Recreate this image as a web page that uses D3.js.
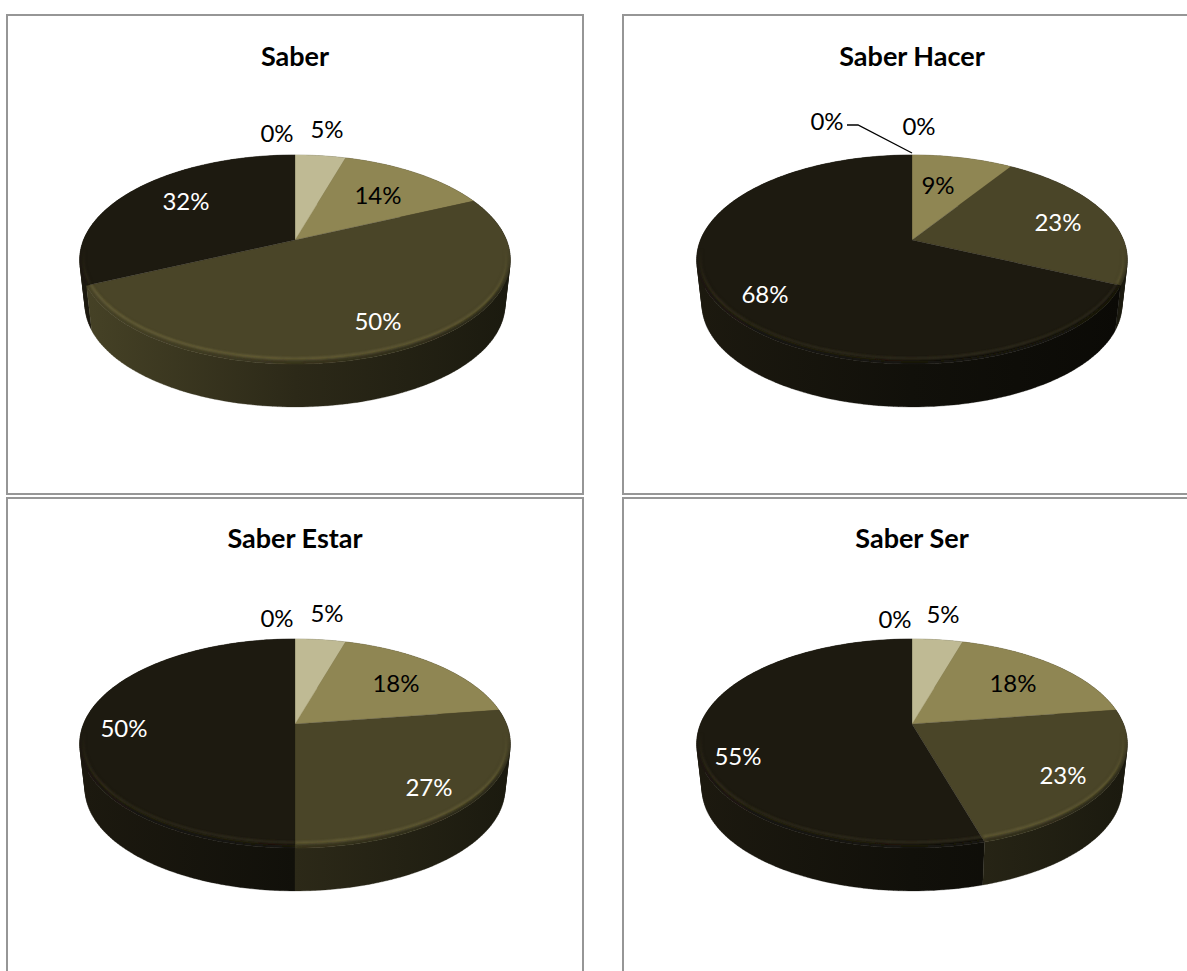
<!DOCTYPE html>
<html><head><meta charset="utf-8">
<script src="https://cdn.jsdelivr.net/npm/d3@7"></script>
<style>html,body{margin:0;padding:0;background:#fff;overflow:hidden}svg{display:block}
text{font-family:Lato,"Open Sans",sans-serif}</style></head>
<body><svg id="c" width="1187" height="971"></svg>
<script>
// --- data (respondent counts read from the shares shown) ---
const categories = ["A","B","C","D","E"];
const sliceColors = ["#DDD9C3","#BFBA94","#8F8653","#4A4528","#1D1A10"];
const titles = ["Saber","Saber Hacer","Saber Estar","Saber Ser"];
const saber      = [0,1,3,11,7];
const saberHacer = [0,0,2,5,15];
const saberEstar = [0,1,4,6,11];
const saberSer   = [0,1,4,5,12];
const allSeries = [saber,saberHacer,saberEstar,saberSer];
// --- layout ---
const centers = [[295,240],[912,240],[295,724],[912,724]];
const frames = [[7,15,576,479],[623,15,578,479],[7,498,576,490],[623,498,578,490]];
const titleY = [55,55,537,537];
// label centres relative to the pie apex, per category
const labelOffsets = [
 [[-18,-108],[32,-112],[83,-46],[83,80],[-109,-40]],
 [[-85,-120],[7,-115],[26,-56],[146,-19],[-147,53]],
 [[-18,-107],[32,-112],[101,-42],[134,62],[-171,3]],
 [[-17,-106],[31,-111],[101,-42],[151,50],[-174,31]]
];
const leader = [[847,125],[858,125],[912,153]];
const k = 0.1866, A = 211.5, B = 100.9, wallScale = 0.975, wallDrop = 46;

const svg = d3.select("#c"), defs = svg.append("defs");
const color = d3.scaleOrdinal(categories, sliceColors);
const pie = d3.pie().sort(null).value(d => d.v);
const line = d3.line();
const fmt = d3.format(".0%");

defs.append("filter").attr("id","b1").attr("x","-20%").attr("y","-20%").attr("width","140%").attr("height","140%")
  .append("feGaussianBlur").attr("stdDeviation",1.3);
defs.append("filter").attr("id","b2").attr("x","-20%").attr("y","-20%").attr("width","140%").attr("height","140%")
  .append("feGaussianBlur").attr("stdDeviation",2.4);

function projector(cx, cy){
  return (t, sx=1, sy=1, dy=0) => {
    const u=Math.sin(t), v=Math.cos(t), w=1+k*v;
    return [cx+sx*A*u/w, cy+dy-sy*B*v/w];
  };
}
function angles(a0,a1){
  const n=Math.max(2,Math.ceil((a1-a0)/0.02));
  return d3.range(n+1).map(i=>a0+(a1-a0)*i/n);
}

allSeries.forEach((series,pi)=>{
  const [cx,cy]=centers[pi], P=projector(cx,cy);
  const g=svg.append("g");
  const fr=frames[pi];
  g.append("rect").attr("x",fr[0]).attr("y",fr[1]).attr("width",fr[2]).attr("height",fr[3])
    .attr("fill","#fff").attr("stroke","#969696").attr("stroke-width",2);
  g.append("text").attr("x",cx).attr("y",titleY[pi]).attr("text-anchor","middle").attr("dominant-baseline","central")
    .attr("font-size",27).attr("font-weight",700).attr("fill","#000").text(titles[pi]);

  const total=d3.sum(series);
  const rows=series.map((v,i)=>({v,cat:categories[i],i}));
  const arcs=pie(rows).filter(d=>d.data.v>0);

  // side wall, shaded left to right; back slices first
  const stops=[[0,.95],[.5,.6],[1,.37]];
  const wallId=d=>`w${pi}_${d.data.i}`;
  arcs.forEach(d=>{
    const lg=defs.append("linearGradient").attr("id",wallId(d)).attr("gradientUnits","userSpaceOnUse")
      .attr("x1",cx-A).attr("x2",cx+A).attr("y1",0).attr("y2",0);
    stops.forEach(s=>{const c=d3.rgb(color(d.data.cat));
      lg.append("stop").attr("offset",s[0]).attr("stop-color",d3.rgb(c.r*s[1],c.g*s[1],c.b*s[1]).formatHex());});
  });
  arcs.slice().sort((a,b)=>Math.cos((b.startAngle+b.endAngle)/2)-Math.cos((a.startAngle+a.endAngle)/2)).forEach(d=>{
    const ts=angles(d.startAngle,d.endAngle);
    // one consistently wound quad per step, so the band folds cleanly at the silhouette
    const paths=d3.pairs(ts).map(([t0,t1])=>{
      const q=[P(t0),P(t1),P(t1,wallScale,wallScale,wallDrop),P(t0,wallScale,wallScale,wallDrop)];
      if(d3.polygonArea(q)<0) q.reverse();
      return line(q)+"Z";
    }).join("");
    g.append("path").attr("d",paths).attr("fill",`url(#${wallId(d)})`)
      .attr("stroke",`url(#${wallId(d)})`).attr("stroke-width",.3);
  });

  // fade for the bevel toward the back of the pie
  const mg=defs.append("linearGradient").attr("id",`mg${pi}`).attr("gradientUnits","userSpaceOnUse")
    .attr("x1",0).attr("x2",0).attr("y1",cy+8).attr("y2",cy+55);
  mg.append("stop").attr("offset",0).attr("stop-color","#000");
  mg.append("stop").attr("offset",1).attr("stop-color","#fff");
  defs.append("mask").attr("id",`m${pi}`).attr("maskUnits","userSpaceOnUse")
    .attr("x",cx-260).attr("y",cy-120).attr("width",520).attr("height",320)
    .append("rect").attr("x",cx-260).attr("y",cy-120).attr("width",520).attr("height",320).attr("fill",`url(#mg${pi})`);

  // top faces with a soft bevel on the near rim
  arcs.forEach(d=>{
    const ts=angles(d.startAngle,d.endAngle);
    const c=color(d.data.cat);
    const face=line([[cx,cy]].concat(ts.map(t=>P(t))))+"Z";
    g.append("path").attr("d",face).attr("fill",c).attr("stroke",c).attr("stroke-width",.3);
    const id=`f${pi}_${d.data.i}`;
    defs.append("clipPath").attr("id",id).append("path").attr("d",face);
    const b=g.append("g").attr("clip-path",`url(#${id})`).append("g").attr("mask",`url(#m${pi})`);
    const base=d3.rgb(c);
    const hi=d3.rgb(Math.min(255,base.r*1.35+30),Math.min(255,base.g*1.35+28),Math.min(255,base.b*1.35+20)).formatHex();
    b.append("path").attr("d",line(ts.map(t=>P(t)))).attr("fill","none").attr("stroke",`url(#${wallId(d)})`)
      .attr("stroke-width",5).attr("filter","url(#b2)");
    b.append("path").attr("d",line(ts.map(t=>P(t,.982,.955)))).attr("fill","none").attr("stroke",hi)
      .attr("stroke-width",1.6).attr("stroke-opacity",.7).attr("filter","url(#b1)");
  });

  // data labels
  rows.forEach((r,i)=>{
    const off=labelOffsets[pi][i];
    g.append("text").attr("x",cx+off[0]).attr("y",cy+off[1]).attr("text-anchor","middle").attr("dominant-baseline","central")
      .attr("font-size",24).attr("fill",r.i>=3?"#fff":"#000").text(fmt(r.v/total));
  });
  if(pi===1) g.append("path").attr("d",line(leader)).attr("fill","none").attr("stroke","#000").attr("stroke-width",1.3);
});
</script></body></html>
